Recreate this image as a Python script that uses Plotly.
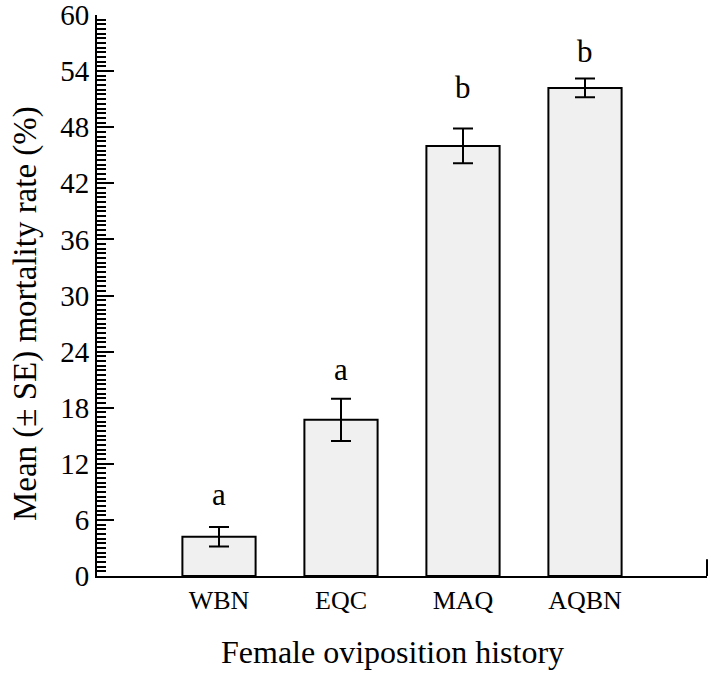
import plotly.graph_objects as go

categories = ["WBN", "EQC", "MAQ", "AQBN"]
positions = [1, 2, 3, 4]
mean_mortality = [4.2, 16.7, 46.0, 52.2]
se_mortality = [1.05, 2.25, 1.85, 1.0]
letters = ["a", "a", "b", "b"]
letter_y = [7.4, 20.8, 50.9, 54.8]
y_ticks = list(range(0, 61, 6))

FONT = "Liberation Serif, Times New Roman, serif"

fig = go.Figure()
fig.add_trace(go.Bar(
    x=positions, y=mean_mortality, width=0.6,
    marker=dict(color="#f0f0f0", line=dict(color="black", width=2)),
    error_y=dict(type="data", array=se_mortality, visible=True,
                 color="black", thickness=2, width=10),
    showlegend=False, hoverinfo="skip",
))

for xp, ly, lt in zip(positions, letter_y, letters):
    fig.add_annotation(x=xp, y=ly, text=lt, showarrow=False,
                       xref="x", yref="y", yanchor="bottom", yshift=-7,
                       font=dict(family=FONT, size=31, color="black"))

# axis titles
fig.add_annotation(text="Female oviposition history", xref="paper", yref="paper",
                   x=0.485, y=-0.1355, xanchor="center", yanchor="middle",
                   showarrow=False, font=dict(family=FONT, size=32, color="black"))
fig.add_annotation(text="Mean (± SE) mortality rate (%)", xref="paper", yref="paper",
                   x=-0.117, y=0.468, xanchor="center", yanchor="middle", textangle=-90,
                   showarrow=False, font=dict(family=FONT, size=33, color="black"))

# short end tick at the right end of the x axis
fig.add_shape(type="line", xref="paper", yref="paper", x0=1, x1=1, y0=0, y1=0.03,
              line=dict(color="black", width=2))

fig.update_layout(
    width=711, height=674,
    margin=dict(l=97, r=4, t=15, b=98),
    plot_bgcolor="white", paper_bgcolor="white",
    font=dict(family=FONT, color="black"),
    xaxis=dict(
        range=[0, 5], tickvals=positions, ticktext=categories,
        showline=True, linewidth=2, linecolor="black",
        ticks="", showgrid=False, zeroline=False, automargin=False,
        ticklabelstandoff=0,
        tickfont=dict(family=FONT, size=26, color="black"),
    ),
    yaxis=dict(
        range=[0, 60], tickvals=y_ticks,
        showline=True, linewidth=2, linecolor="black",
        ticks="inside", ticklen=17, tickwidth=2, tickcolor="black",
        minor=dict(ticks="inside", ticklen=9, tickwidth=2, tickcolor="black",
                   dtick=0.5, tick0=0, showgrid=False),
        showgrid=False, zeroline=False, automargin=False,
        ticklabelstandoff=0, ticklabeloverflow="allow",
        tickfont=dict(family=FONT, size=29, color="black"),
    ),
)

fig.write_html(
    "out.html", config={"displayModeBar": False},
    post_script=(
        "document.documentElement.style.overflow='hidden';"
        "document.body.style.margin='0';document.body.style.overflow='hidden';"
    ),
)
